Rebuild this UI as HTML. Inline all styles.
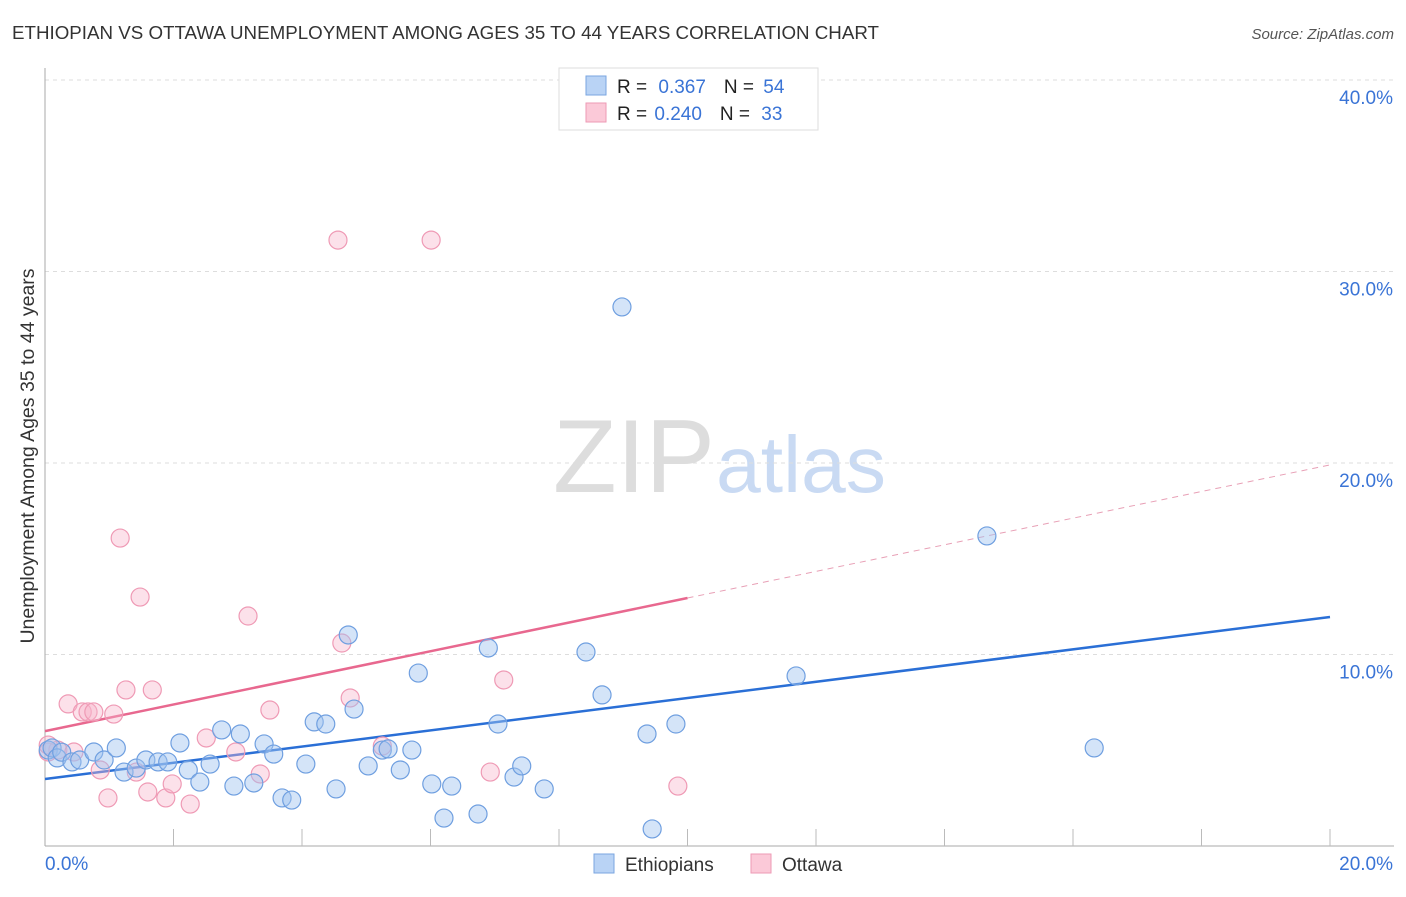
<!DOCTYPE html>
<html><head><meta charset="utf-8">
<style>
body{margin:0;background:#fff;font-family:"Liberation Sans",sans-serif;}
svg text{font-family:"Liberation Sans",sans-serif;}
</style></head>
<body>
<svg id="chart" width="1406" height="892" xmlns="http://www.w3.org/2000/svg">
<text x="12" y="39" font-size="18" fill="#333" textLength="867" lengthAdjust="spacingAndGlyphs">ETHIOPIAN VS OTTAWA UNEMPLOYMENT AMONG AGES 35 TO 44 YEARS CORRELATION CHART</text>
<text x="1394" y="39" font-size="15" fill="#555" text-anchor="end" font-style="italic">Source: ZipAtlas.com</text>
<text transform="translate(34,456) rotate(-90)" font-size="19.5" fill="#333" text-anchor="middle">Unemployment Among Ages 35 to 44 years</text>
<g>
<text x="553" y="492" font-size="104" fill="#ddd" font-family="Liberation Serif,serif" textLength="162" lengthAdjust="spacingAndGlyphs">ZIP</text>
<text x="716" y="492" font-size="80" fill="#c9daf3" textLength="170" lengthAdjust="spacingAndGlyphs">atlas</text>
</g>
<g id="grid"></g>
<g id="axes"></g>
<g id="lines"></g>
<g id="pts"></g>
<g>
<rect x="559" y="68" width="259" height="62" fill="#fff" stroke="#ddd"/>
<rect x="586" y="76" width="20" height="19" fill="#b9d3f5" stroke="#7aa6e0"/>
<rect x="586" y="103" width="20" height="19" fill="#fbc9d8" stroke="#ee9ab5"/>
<text x="617" y="93" font-size="19" fill="#222">R = <tspan fill="#3a74d6" dx="6">0.367</tspan><tspan dx="18" fill="#222">N = </tspan><tspan fill="#3a74d6" dx="4">54</tspan></text>
<text x="617" y="120" font-size="19" fill="#222">R = <tspan fill="#3a74d6" dx="2">0.240</tspan><tspan dx="18" fill="#222">N = </tspan><tspan fill="#3a74d6" dx="6">33</tspan></text>
</g>
<g>
<rect x="594" y="854" width="20" height="19" fill="#b9d3f5" stroke="#7aa6e0"/>
<text x="625" y="871" font-size="19" fill="#333">Ethiopians</text>
<rect x="751" y="854" width="20" height="19" fill="#fbc9d8" stroke="#ee9ab5"/>
<text x="782" y="871" font-size="19" fill="#333">Ottawa</text>
</g>
</svg>
<script>
const yTicks=[10,20,30,40];
const yTickLabels=["10.0%","20.0%","30.0%","40.0%"];
const xEndLabels=["0.0%","20.0%"];
const blueX=[0.05,0.11,0.19,0.26,0.42,0.54,0.76,0.92,1.11,1.23,1.42,1.57,1.76,1.91,2.1,2.23,2.41,2.57,2.75,2.94,3.04,3.25,3.41,3.56,3.69,3.84,4.06,4.19,4.37,4.53,4.72,4.81,5.03,5.25,5.34,5.53,5.71,5.81,6.02,6.21,6.33,6.74,6.9,7.05,7.3,7.42,7.77,8.42,8.67,9.37,9.45,9.82,8.98,11.69,14.66,16.33];
const blueY=[5.01,5.12,4.6,4.9,4.39,4.49,4.91,4.49,5.12,3.86,4.07,4.49,4.39,4.39,5.38,3.97,3.34,4.28,6.06,3.13,5.85,3.29,5.33,4.8,2.51,2.4,4.28,6.48,6.37,2.98,11.02,7.15,4.18,5.01,5.07,3.97,5.01,9.03,3.24,1.46,3.13,1.67,10.34,6.37,3.6,4.18,2.98,10.13,7.89,5.85,0.89,6.37,28.15,8.88,16.19,5.12];
const pinkX=[0.05,0.2,0.36,0.45,0.58,0.67,0.76,0.86,0.98,1.07,1.26,1.42,1.6,1.67,1.48,1.17,1.88,1.98,2.26,2.51,2.97,3.16,3.35,3.5,4.56,4.62,4.75,5.25,6.01,6.93,7.14,9.85,0.05];
const pinkY=[4.91,5.01,7.42,4.91,7.0,7.0,7.0,3.97,2.51,6.89,8.15,3.86,2.82,8.15,13.0,16.08,2.51,3.24,2.19,5.64,4.91,12.01,3.76,7.1,31.64,10.6,7.73,5.22,31.64,3.86,8.67,3.13,5.27];
const blueTrend=[3.5,11.96];
const pinkTrend=[6.0,19.9];
const pinkSolidEnd=10;

const NS="http://www.w3.org/2000/svg";
const X=v=>45+v*64.25;
const Y=v=>846-v*19.15;
function mk(tag,attrs,parent){const e=document.createElementNS(NS,tag);for(const k in attrs)e.setAttribute(k,attrs[k]);parent.appendChild(e);return e;}
const grid=document.getElementById('grid'),axes=document.getElementById('axes'),lines=document.getElementById('lines'),pts=document.getElementById('pts');
yTicks.forEach((t,i)=>{
 const l=mk('line',{x1:45,x2:1394,y1:Y(t),y2:Y(t),stroke:'#ddd','stroke-dasharray':'4,4'},grid);
 
 
 const tx=mk('text',{x:1393,y:Y(t)+24,'font-size':19,fill:'#3a74d6','text-anchor':'end'},axes);
 tx.textContent=yTickLabels[i];
 
 
});
const ax=mk('line',{x1:45,x2:45,y1:68,y2:846,stroke:'#aaa'},axes);


const bx=mk('line',{x1:45,x2:1394,y1:846,y2:846,stroke:'#aaa'},axes);


for(let i=1;i<=10;i++){
 const tk=mk('line',{x1:X(i*2),x2:X(i*2),y1:829,y2:846,stroke:'#bbb'},axes);
 
 
}
const xl0=mk('text',{x:45,y:870,'font-size':19,fill:'#3a74d6'},axes);
xl0.textContent=xEndLabels[0];


const xl1=mk('text',{x:1393,y:870,'font-size':19,fill:'#3a74d6','text-anchor':'end'},axes);
xl1.textContent=xEndLabels[1];


function dot(x,y,fill,stroke,name){
 const c=mk('circle',{cx:X(x),cy:Y(y),r:9,fill:fill,stroke:stroke,'stroke-width':1.2},pts);
 
 
}
pinkX.forEach((x,i)=>dot(x,pinkY[i],'rgba(248,180,202,0.4)','#ef9ab5','ottawa-point'));
blueX.forEach((x,i)=>dot(x,blueY[i],'rgba(160,196,240,0.45)','#6f9fe0','ethiopians-point'));
const bt=mk('line',{x1:X(0),y1:Y(blueTrend[0]),x2:X(20),y2:Y(blueTrend[1]),stroke:'#2a6fd6','stroke-width':2.5},lines);


const pAt=v=>pinkTrend[0]+(pinkTrend[1]-pinkTrend[0])*v/20;
const pt=mk('line',{x1:X(0),y1:Y(pAt(0)),x2:X(pinkSolidEnd),y2:Y(pAt(pinkSolidEnd)),stroke:'#e8688f','stroke-width':2.5},lines);


const pd=mk('line',{x1:X(pinkSolidEnd),y1:Y(pAt(pinkSolidEnd)),x2:X(20),y2:Y(pAt(20)),stroke:'#e8a0b6','stroke-width':1,'stroke-dasharray':'6,5'},lines);


</script>
</body></html>
